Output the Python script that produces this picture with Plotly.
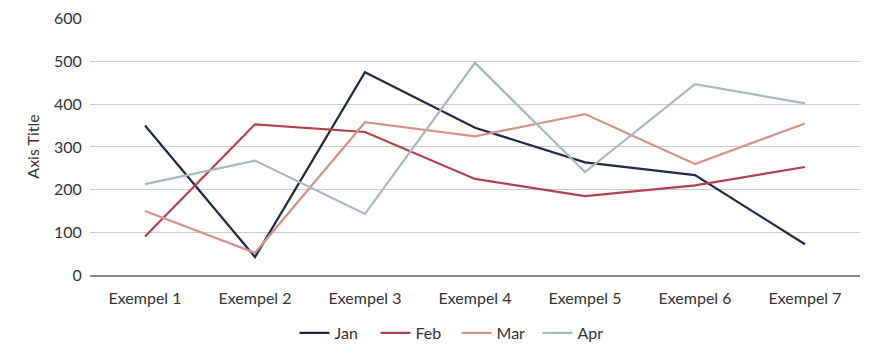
import plotly.graph_objects as go

categories = ["Exempel 1", "Exempel 2", "Exempel 3", "Exempel 4", "Exempel 5", "Exempel 6", "Exempel 7"]
jan = [350, 42, 475, 345, 264, 234, 72]
feb = [90, 353, 335, 225, 185, 210, 253]
mar = [150, 52, 358, 325, 377, 260, 355]
apr = [213, 268, 143, 497, 241, 447, 402]

series = [("Jan", jan, "#1f2b44"), ("Feb", feb, "#b3404d"), ("Mar", mar, "#d4938a"), ("Apr", apr, "#a7bbbf")]

fig = go.Figure()
for name, vals, color in series:
    fig.add_trace(go.Scatter(x=categories, y=vals, name=name, mode="lines",
                             line=dict(color=color, width=2.25)))

# the page adds an 8px body margin, so the figure is sized/offset to compensate
fig.update_layout(
    width=872, height=351,
    margin=dict(l=82, r=20, t=10, b=84, autoexpand=False),
    paper_bgcolor="white", plot_bgcolor="white",
    font=dict(family="Lato", size=16, color="#333333"),
    showlegend=True,
    legend=dict(orientation="h", x=0.476, xanchor="center", y=-0.226, yanchor="middle",
                font=dict(size=16), itemwidth=30, tracegroupgap=0,
                entrywidth=36, entrywidthmode="pixels"),
    xaxis=dict(type="category", showgrid=False, showline=True, linecolor="#888888", linewidth=2,
               ticks="outside", ticklen=8, tickcolor="rgba(0,0,0,0)", tickfont=dict(size=16),
               range=[-0.5, 6.5], automargin=False),
    yaxis=dict(range=[0, 602], tickvals=[0, 100, 200, 300, 400, 500, 600], showgrid=True,
               gridcolor="#cccccc", gridwidth=1, ticklabeloverflow="allow",
               zeroline=False, showline=False, ticks="outside", ticklen=4, tickcolor="rgba(0,0,0,0)",
               tickfont=dict(size=16), automargin=False,
               title=dict(text="Axis Title", font=dict(size=16), standoff=10)),
)

fig.write_html("out.html")
